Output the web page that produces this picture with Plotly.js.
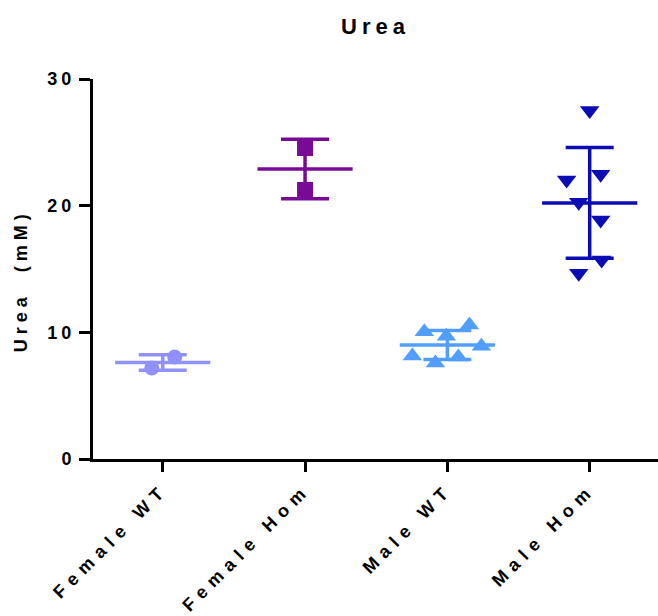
<!DOCTYPE html>
<html>
<head>
<meta charset="utf-8">
<script src="https://cdn.plot.ly/plotly-3.0.1.min.js"></script>
<style>
  html, body { margin: 0; padding: 0; background: #fff; }
  #chart { width: 658px; height: 616px; }
  .gtitle { letter-spacing: 5px; }
  .annotation-text { letter-spacing: 5px; }
  .xtick text { letter-spacing: 6.5px; }
  .ytick text { letter-spacing: 4px; }
</style>
</head>
<body>
<div id="chart"></div>
<script>
// ---- data ----
const categories = ["Female WT", "Female Hom", "Male WT", "Male Hom"];

const femaleWT  = [7.18, 8.05];
const femaleHom = [24.55, 21.24];
const maleWT    = [10.05, 10.58, 9.7, 8.9, 8.13, 8.05, 7.58];
const maleHom   = [27.52, 22.48, 22.03, 20.26, 18.87, 15.71, 14.66];

// horizontal scatter offsets (in category units)
const femaleWTOffset  = [-0.077, 0.084];
const femaleHomOffset = [0, 0];
const maleWTOffset    = [-0.162, 0.155, -0.007, 0.239, -0.246, 0.077, -0.084];
const maleHomOffset   = [0, 0.077, -0.162, -0.077, 0.077, 0.084, -0.077];

const yTickVals = [0, 10, 20, 30];

// ---- styling ----
const groups = [
  {vals: femaleWT,  off: femaleWTOffset,  color: "#9090FF", symbol: "circle",        size: 15},
  {vals: femaleHom, off: femaleHomOffset, color: "#780A96", symbol: "square",        size: 16},
  {vals: maleWT,    off: maleWTOffset,    color: "#529EFF", symbol: "triangle-up",   size: 17},
  {vals: maleHom,   off: maleHomOffset,   color: "#0C0CB4", symbol: "triangle-down", size: 17}
];

function mean(a) { return a.reduce((s, v) => s + v, 0) / a.length; }
function sd(a) {
  const m = mean(a);
  return Math.sqrt(a.reduce((s, v) => s + (v - m) * (v - m), 0) / (a.length - 1));
}

const traces = [];
// mean + SD
groups.forEach((g, i) => {
  traces.push({
    type: "scatter", mode: "markers",
    x: [i], y: [mean(g.vals)],
    marker: {symbol: "line-ew", size: 68, color: g.color, line: {color: g.color, width: 3.5}},
    error_y: {type: "data", array: [sd(g.vals)], visible: true, color: g.color, thickness: 3.5, width: 24},
    hoverinfo: "skip", showlegend: false, cliponaxis: false
  });
});
// individual points
groups.forEach((g, i) => {
  traces.push({
    type: "scatter", mode: "markers",
    x: g.vals.map((v, k) => i + g.off[k]), y: g.vals,
    marker: {symbol: g.symbol, size: g.size, color: g.color, line: {width: 0}},
    showlegend: false, cliponaxis: false
  });
});

const fam = "'Liberation Sans', Arial, sans-serif";

const layout = {
  width: 658, height: 616,
  margin: {l: 93, r: 0, t: 79, b: 157},
  paper_bgcolor: "#fff", plot_bgcolor: "#fff",
  showlegend: false,
  font: {family: fam, color: "#000", size: 18},
  title: {text: "<b>Urea</b>", x: 0.5, xref: "paper", y: 0.958, yanchor: "middle",
          font: {family: fam, size: 22, color: "#000"}},
  xaxis: {
    range: [-0.49, 3.48], tickmode: "array", tickvals: [0, 1, 2, 3], ticktext: categories,
    tickangle: -45, showgrid: false, zeroline: false,
    showline: true, linecolor: "#000", linewidth: 3,
    ticks: "outside", ticklen: 10, tickwidth: 3, tickcolor: "#000",
    tickfont: {family: fam, size: 18, color: "#000", weight: "bold"}
  },
  yaxis: {
    range: [0, 30], tickmode: "array", tickvals: yTickVals,
    showgrid: false, zeroline: false,
    showline: true, linecolor: "#000", linewidth: 3,
    ticks: "outside", ticklen: 11, tickwidth: 3, tickcolor: "#000",
    tickfont: {family: fam, size: 18, color: "#000", weight: "bold"}
  },
  annotations: [{
    text: "<b>Urea\u00a0\u00a0(mM)</b>", textangle: -90,
    xref: "paper", yref: "paper", x: -0.126, y: 0.47,
    xanchor: "center", yanchor: "middle", showarrow: false,
    font: {family: fam, size: 18, color: "#000"}
  }]
};

Plotly.newPlot("chart", traces, layout, {displayModeBar: false, staticPlot: true});
</script>
</body>
</html>
